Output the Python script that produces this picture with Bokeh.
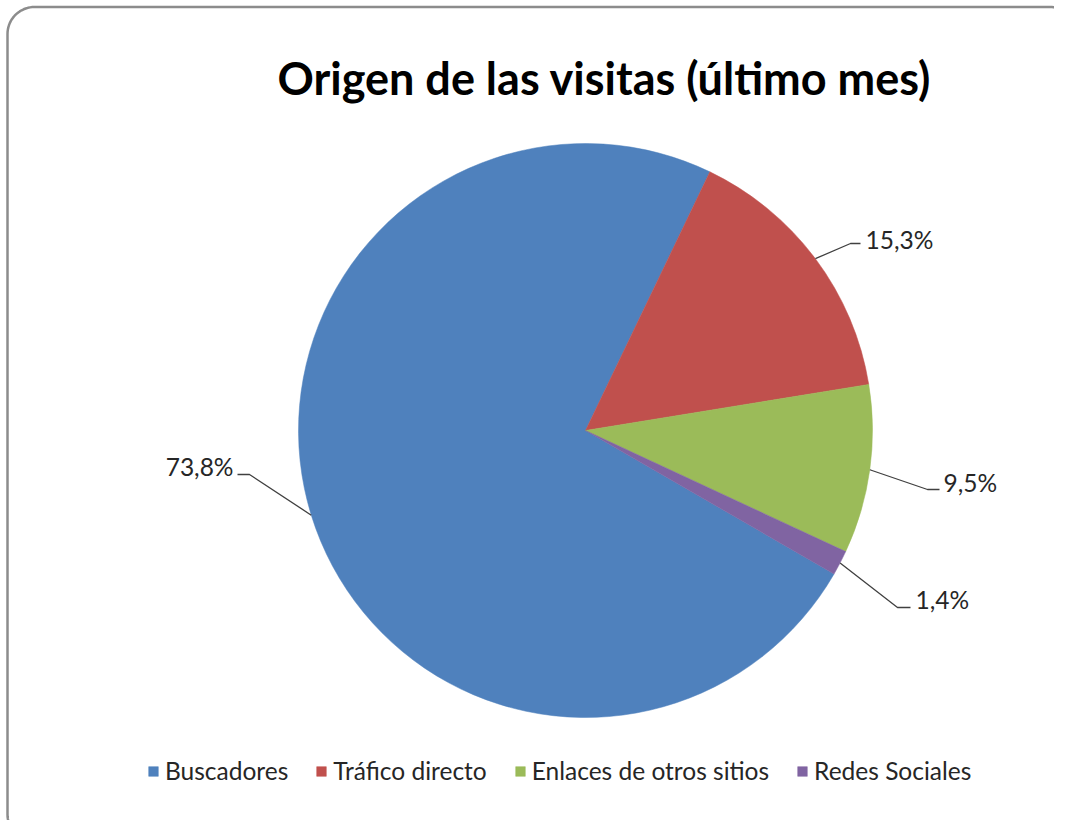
import numpy as np
from bokeh.plotting import figure
from bokeh.models import ColumnDataSource, Range1d, Legend, LegendItem
from bokeh.embed import file_html
from bokeh.resources import INLINE
from bokeh.core.properties import value

# ---- data ----
categories = ["Buscadores", "Tráfico directo", "Enlaces de otros sitios", "Redes Sociales"]
percent = [73.8, 15.3, 9.5, 1.4]
label_texts = ["73,8%", "15,3%", "9,5%", "1,4%"]
colors = ["#4F81BD", "#C0504D", "#9BBB59", "#8064A2"]
title_text = "Origen de las visitas (último mes)"

# ---- layout (page pixel coordinates) ----
W, H = 1054, 820
PAGE_H = 836


def Y(py):
    return PAGE_H - py


CX, CY, R = 585, Y(430), 287
FIRST_ANGLE = 120  # degrees clockwise from 12 o'clock

lab_x = [233, 865, 943, 915]
lab_align = ["right", "left", "left", "left"]
lab_base = [466, 238.5, 481.5, 599]
elbow = [(249, 474), (850, 243), (927, 489), (897, 607)]
tail = [(237, 474), (860, 243), (939, 489), (910, 607)]

p = figure(width=W, height=H, x_range=Range1d(0, W), y_range=Range1d(Y(H), Y(0)),
           output_backend="svg", toolbar_location=None, min_border=0)
p.axis.visible = False
p.grid.visible = False
p.outline_line_color = None
p.background_fill_color = "white"
p.border_fill_color = "white"

# frame border (rounded)
rr = 27
bx0, by0, bx1, by1 = 7, 6.5, 1076, 841
pts = []


def arc(cx, cy, a0, a1):
    t = np.radians(np.linspace(a0, a1, 20))
    return list(zip(cx + rr * np.cos(t), cy - rr * np.sin(t)))


pts += [(bx0, by1 - rr)]
pts += arc(bx0 + rr, by0 + rr, 180, 90)
pts += arc(bx1 - rr, by0 + rr, 90, 0)
pts += arc(bx1 - rr, by1 - rr, 0, -90)
pts += arc(bx0 + rr, by1 - rr, -90, -180)
bxs = [q[0] for q in pts]
bys = [Y(q[1]) for q in pts]
p.line(bxs, bys, line_color="#8c8c8c", line_width=2.5)

# pie
frac = np.array(percent) / sum(percent)
cum = np.concatenate([[0], np.cumsum(frac)[:-1]])
start = np.radians(90 - FIRST_ANGLE) - 2 * np.pi * cum
end = start - 2 * np.pi * frac
mid = (start + end) / 2

src = ColumnDataSource(dict(name=categories, start=start, end=end, color=colors))
wr = p.wedge(x=CX, y=CY, radius=R, start_angle="start", end_angle="end", direction="clock",
             fill_color="color", line_color="color", line_width=0.5, source=src)

# leader lines
ex = CX + R * np.cos(mid)
ey = CY + R * np.sin(mid)
lxs = [[ex[i], elbow[i][0], tail[i][0]] for i in range(4)]
lys = [[ey[i], Y(elbow[i][1]), Y(tail[i][1])] for i in range(4)]
p.multi_line(lxs, lys, line_color="#404040", line_width=1.3)

# data labels
for i in range(4):
    p.text(x=[lab_x[i]], y=[Y(lab_base[i])], text=[label_texts[i]], text_align=lab_align[i],
           text_baseline="alphabetic", text_font=value("Lato"), text_font_size="24.5px",
           text_color="#262626")

# title
p.text(x=[604], y=[Y(77)], text=[title_text], text_align="center", text_baseline="alphabetic",
       text_font=value("Lato"), text_font_size="45px", text_font_style="bold", text_color="#000000")

# legend
items = [LegendItem(label=categories[i], renderers=[wr], index=i) for i in range(4)]
legend = Legend(items=items, orientation="horizontal", location=(147, 35),
                glyph_width=12, glyph_height=12, label_standoff=6, spacing=27,
                padding=0, margin=0, border_line_color=None, background_fill_alpha=0,
                label_text_font="Lato", label_text_font_size="24.5px", label_text_color="#262626",
                label_height=26)
p.add_layout(legend, "center")

open("out.html", "w").write(file_html(p, INLINE))
